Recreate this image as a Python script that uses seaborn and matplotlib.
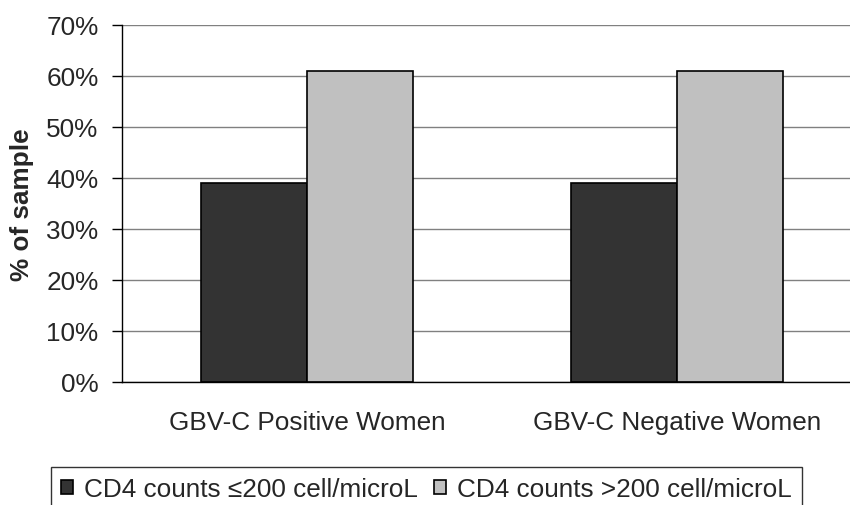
import matplotlib
matplotlib.use("Agg")
import matplotlib.pyplot as plt
import matplotlib.ticker as mticker
import seaborn as sns
import pandas as pd

groups = ["GBV-C Positive Women", "GBV-C Negative Women"]
series = ["CD4 counts \u2264200 cell/microL", "CD4 counts >200 cell/microL"]
low_cd4 = [39, 39]
high_cd4 = [61, 61]
y_ticks = [0, 10, 20, 30, 40, 50, 60, 70]

df = pd.DataFrame({
    "group": groups * 2,
    "series": [series[0]] * len(groups) + [series[1]] * len(groups),
    "value": low_cd4 + high_cd4,
})

sns.set_style("white")
plt.rcParams["font.family"] = ["Liberation Sans", "DejaVu Sans"]

fig = plt.figure(figsize=(8.5, 5.06), dpi=100)
ax = fig.add_axes([122 / 850, 1 - 383 / 506, 740 / 850, 357 / 506])

sns.barplot(
    data=df, x="group", y="value", hue="series", order=groups, hue_order=series,
    palette=["#333333", "#c0c0c0"], width=0.574, edgecolor="black", linewidth=1.2,
    saturation=1, ax=ax, legend=True,
)

ax.set_xlim(-0.5, 1.5)
ax.set_ylim(0, 70)
ax.set_yticks(y_ticks)
ax.yaxis.set_major_formatter(mticker.FuncFormatter(lambda v, p: f"{v:.0f}%"))
ax.yaxis.grid(True, color="#808080", linewidth=1)
ax.set_axisbelow(True)

# category boundary ticks; labels sit under group centres
ax.set_xticks([0, 1])
ax.set_xticks([-0.5, 0.5, 1.5], minor=True)
ax.tick_params(axis="x", which="major", length=0, pad=20, labelsize=18.8)
ax.tick_params(axis="x", which="minor", length=7, width=1, color="black", direction="out")
ax.tick_params(axis="y", length=7, width=1, color="black", direction="out", pad=10, labelsize=18.8, left=True)

for s in ["top", "right"]:
    ax.spines[s].set_visible(False)
for s in ["left", "bottom"]:
    ax.spines[s].set_color("black")
    ax.spines[s].set_linewidth(1)

ax.set_xlabel("")
ax.set_ylabel("% of sample", fontsize=18.8, fontweight="bold", labelpad=9)

handles, labels = ax.get_legend_handles_labels()
ax.get_legend().remove()
fig.legend(
    handles, labels, loc="upper left", bbox_to_anchor=(51 / 850, 1 - 468 / 506),
    ncol=2, fontsize=18.8, frameon=True, fancybox=False, edgecolor="black",
    handlelength=0.46, handleheight=0.46, handletextpad=0.42, columnspacing=0.6,
    borderpad=0.4, borderaxespad=0,
)
fig.legends[0].get_frame().set_linewidth(1)

fig.savefig("out.png", dpi=100)
